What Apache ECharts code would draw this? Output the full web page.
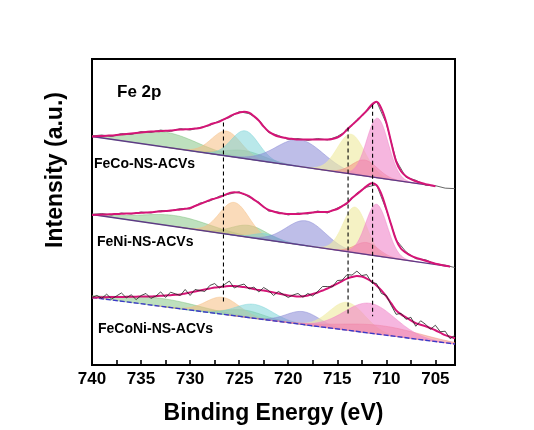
<!DOCTYPE html>
<html><head><meta charset="utf-8">
<script src="https://cdn.jsdelivr.net/npm/echarts@6/dist/echarts.min.js"></script>
<style>html,body{margin:0;padding:0;background:#fff}#c{width:534px;height:430px}</style>
</head><body><div id="c"></div>
<script>
// ---------- DATA ----------
const labelTicks = [705, 710, 715, 720, 725, 730, 735, 740];
const minorTicks = [705, 707.5, 710, 712.5, 715, 717.5, 720, 722.5, 725, 727.5, 730, 732.5, 735, 737.5];
const spectrumNames = ['FeCo-NS-ACVs', 'FeNi-NS-ACVs', 'FeCoNi-NS-ACVs'];
const titleText = 'Fe 2p';
const yTitle = 'Intensity (a.u.)';
const xTitle = 'Binding Energy (eV)';

// envelope (fit) energies: 740 -> 703 eV, every 0.5 eV
const envEnergy = [];
for (let i = 0; i < 75; i++) envEnergy.push(740 - 0.5 * i);
const envTop = [230,230.2,230.5,230.8,231,231.5,232,232.5,233,233.5,
  234,234.5,235,235.2,235.5,235.8,236,236.5,237,237.2,
  237.5,238,238.5,240,242,243.5,245,247.5,250,252.5,
  254,255,254,250.5,246,240,235,232,230,229,
  228,227.5,227,227,227,227,227,227,227,227.5,
  229,232,237,241.5,246,251,256,262,265,258,
  244,224,205,195,190,187,185,183.5,182,181,
  180,null,null,null,null];
const envMid = [151,151.2,151.4,151.6,151.8,152,152.2,152.4,152.6,152.9,
  153.2,153.5,153.8,154.2,154.6,155,155.5,156,156.5,157.2,
  158,160,162,164,166,167.5,169,171,173,174,
  173.5,172,170,166.5,163,159,156,154.5,153,152.5,
  152,152,152,152.5,153,153.5,154,154,154,155.5,
  157,160,163,168,172,176,180,183,181,172,
  157,141,126,117,113,110,108,106.5,105,103.5,
  102,101,100,99,null];
const envBot = [68,68,68.2,68.3,68.4,68.5,68.5,68.6,68.7,68.8,
  68.9,69,69,69.3,69.6,70,70.3,70.6,71,72,
  73,74,75,76,77,78,78.5,79,79.5,79.5,
  79,78.5,77.5,76.5,75.5,75,74,73,72,71,
  70,69.5,69,69.2,70,71.5,73,75,77,79.5,
  82,84.5,87,88.5,89.5,89,87,84,80,75,
  69,62,55,51,48,45,42,40.5,39,37,
  35,32.5,30,28.5,27];
// raw data
const rawBot = [68,70,67.2,71.3,66.4,69.5,72.5,67.6,70.7,65.8,
  69.9,72,67,69.3,73.6,68,73.3,71.6,70,76,
  70,76,75,74,80,82,77.5,81,84.5,77.5,
  80,81.5,76.5,78.5,73.5,78,75,70,74,71,
  68,70.5,72,68.2,72,69.5,74,79,79,78.5,
  85,85.5,91,90.5,94.5,90,91,83,82,72,
  70,60,51,52,46,48,39,44.5,41,36,
  40,33.5,34,26.5,30];
const rawEnergy = [740,739,738,737,736,735,734,733,732,731,730,729,728,727,726,725,724,723,722,721,
  720,719,718,717,716,715,714,713,712,711,710,709,708,707,706,705,704,703];
const rawTop = [230.5,231.5,230,233,232,235,234,236.5,235,238,236.5,239,241,246,249,255,253,247,234,231,
  227,228,226,228,226.5,230,236,247,255,265.5,243,206,189,186,181,180.5,178,177.5];
const rawMid = [151.5,152.5,151,153,152,154,153,155.5,155,157.5,157,163,165,170,172,174.5,169,164,155,154,
  151,153,152,155,153,158,162,173,179,181.5,156,126,114,107,106,101.5,100.5,98];

// backgrounds: [E, value] end points
const bgTop = [[740, 230], [705, 180]];
const bgMid = [[740, 151.5], [703.5, 99]];
const bgBot = [[740, 68], [703, 21.1]];

// fitted components: kinds, centres (eV), heights, sigmas (eV)
const kindsTop = ['green','green','orange','cyan','purple','yellow','red','pink'];
const centersTop = [732.5, 724.5, 726.3, 724.4, 718.8, 713.6, 712.2, 710.9];
const heightsTop = [15, 8, 25, 28, 27, 40, 16, 60];
const sigmasTop = [3.2, 2.0, 1.5, 1.4, 2.4, 1.4, 1.3, 1.1];

const kindsMid = ['green','green','orange','cyan','purple','yellow','red','pink'];
const centersMid = [731.5, 724.0, 725.5, 722.3, 718.2, 713.2, 712.0, 711.0];
const heightsMid = [11, 12, 33, 6, 25, 46, 12, 52];
const sigmasMid = [3.5, 1.8, 1.5, 1.2, 2.0, 1.2, 1.2, 1.1];

const kindsBot = ['green','green','orange','cyan','purple','yellow','red','pink'];
const centersBot = [733.0, 724.5, 726.7, 723.5, 718.5, 714.0, 710.5, 711.7];
const heightsBot = [8, 7, 17, 14, 13, 28, 9, 30];
const sigmasBot = [4.0, 2.0, 1.7, 1.9, 1.7, 1.8, 4.0, 2.6];

// dashed reference lines
const dashEnergy = [726.6, 713.9, 711.4];
const dashUpper = [244, 239, 262];
const dashLower = [62, 50, 49];

// ---------- STYLE ----------
const FONT = '"Liberation Sans", Arial, sans-serif';
const kindColor = {
  green: [120, 190, 120, 0.48],
  orange: [245, 190, 130, 0.55],
  cyan: [120, 210, 215, 0.52],
  purple: [130, 130, 210, 0.52],
  yellow: [240, 235, 165, 0.65],
  red: [240, 130, 120, 0.48],
  pink: [240, 130, 200, 0.58]
};
function rgba(c, a) { return 'rgba(' + c[0] + ',' + c[1] + ',' + c[2] + ',' + a + ')'; }

function bgFn(bg) {
  const [e0, v0] = bg[0], [e1, v1] = bg[1];
  return e => v0 + (e - e0) * (v1 - v0) / (e1 - e0);
}

function compSeries(kinds, centers, heights, sigmas, bg) {
  const bgAt = bgFn(bg);
  return {
    type: 'custom', coordinateSystem: 'cartesian2d', silent: true, clip: true, z: 1,
    data: centers.map((c, i) => [c, bgAt(c) + heights[i]]),
    encode: { x: 0, y: 1 },
    renderItem: function (params, api) {
      const i = params.dataIndex;
      const c = centers[i], h = heights[i], s = sigmas[i];
      const lo = Math.max(703, c - 4 * s), hi = Math.min(740, c + 4 * s);
      const top = [], base = [];
      const n = Math.ceil((hi - lo) / 0.1);
      for (let k = 0; k <= n; k++) {
        const e = lo + (hi - lo) * k / n;
        const b = bgAt(e);
        top.push(api.coord([e, b + h * Math.exp(-(e - c) * (e - c) / (2 * s * s))]));
        base.push(api.coord([e, b]));
      }
      const col = kindColor[kinds[i]];
      return {
        type: 'polygon',
        shape: { points: top.concat(base.reverse()) },
        style: { fill: rgba(col, col[3]), stroke: rgba(col, 0.8), lineWidth: 0.6 }
      };
    }
  };
}

function pairs(xs, ys) { return xs.map((x, i) => [x, ys[i]]); }

const series = [];
series.push(compSeries(kindsTop, centersTop, heightsTop, sigmasTop, bgTop));
series.push(compSeries(kindsMid, centersMid, heightsMid, sigmasMid, bgMid));
series.push(compSeries(kindsBot, centersBot, heightsBot, sigmasBot, bgBot));

// backgrounds
[[bgTop, '#5e3a86', 'solid'], [bgMid, '#5e3a86', 'solid'], [bgBot, '#3a3ac8', [5, 2]]].forEach(([bg, col, t]) => {
  series.push({ type: 'line', data: bg, symbol: 'none', silent: true, z: 3,
    lineStyle: { color: col, width: 1.4, type: t } });
});
// raw data
series.push({ type: 'line', data: pairs(rawEnergy, rawTop), symbol: 'none', silent: true, z: 4,
  lineStyle: { color: '#555', width: 0.9 } });
series.push({ type: 'line', data: pairs(rawEnergy, rawMid), symbol: 'none', silent: true, z: 4,
  lineStyle: { color: '#555', width: 0.9 } });
series.push({ type: 'line', data: pairs(envEnergy, rawBot), symbol: 'none', silent: true, z: 6,
  lineStyle: { color: '#222', width: 0.8 } });
// envelopes
[envTop, envMid, envBot].forEach(env => {
  series.push({ type: 'line', data: pairs(envEnergy, env), symbol: 'none', silent: true, z: 5,
    smooth: 0.35, connectNulls: false, lineStyle: { color: '#d41476', width: 2 } });
});
// dashed lines
dashEnergy.forEach((e, i) => {
  series.push({ type: 'line', data: [[e, dashUpper[i]], [e, dashLower[i]]], symbol: 'none', silent: true, z: 7,
    lineStyle: { color: '#000', width: 1.1, type: [4, 3] } });
});

const chart = echarts.init(document.getElementById('c'), null, { renderer: 'canvas' });
chart.setOption({
  animation: false,
  backgroundColor: '#fff',
  grid: { left: 92, right: 79, top: 59, bottom: 63, show: true, borderColor: '#000', borderWidth: 2 },
  xAxis: {
    type: 'value', min: 703, max: 740, inverse: true,
    axisLine: { show: true, lineStyle: { color: '#000', width: 2 } },
    axisTick: { show: true, inside: true, length: 5, lineStyle: { color: '#000', width: 1.6 }, customValues: minorTicks },
    axisLabel: { customValues: labelTicks, color: '#000', fontSize: 17, fontWeight: 'bold', fontFamily: FONT, margin: 6 },
    splitLine: { show: false },
    name: xTitle, nameLocation: 'middle', nameGap: 37,
    nameTextStyle: { color: '#000', fontSize: 23, fontWeight: 'bold', fontFamily: FONT }
  },
  yAxis: {
    type: 'value', min: 0, max: 308,
    axisLine: { show: true, lineStyle: { color: '#000', width: 2 } },
    axisTick: { show: false }, axisLabel: { show: false }, splitLine: { show: false }
  },
  graphic: [
    { type: 'text', x: 56, y: 170, rotation: Math.PI / 2, z: 10,
      style: { text: yTitle, font: 'bold 23px ' + FONT, fill: '#000', align: 'center', verticalAlign: 'middle' } },
    { type: 'text', left: 117, top: 84, z: 10, style: { text: titleText, font: 'bold 17px ' + FONT, fill: '#000' } },
    { type: 'text', left: 94, top: 157, z: 10, style: { text: spectrumNames[0], font: 'bold 14px ' + FONT, fill: '#000' } },
    { type: 'text', left: 97, top: 235, z: 10, style: { text: spectrumNames[1], font: 'bold 14px ' + FONT, fill: '#000' } },
    { type: 'text', left: 98, top: 322, z: 10, style: { text: spectrumNames[2], font: 'bold 14px ' + FONT, fill: '#000' } }
  ],
  series: series
});
</script>
</body></html>
